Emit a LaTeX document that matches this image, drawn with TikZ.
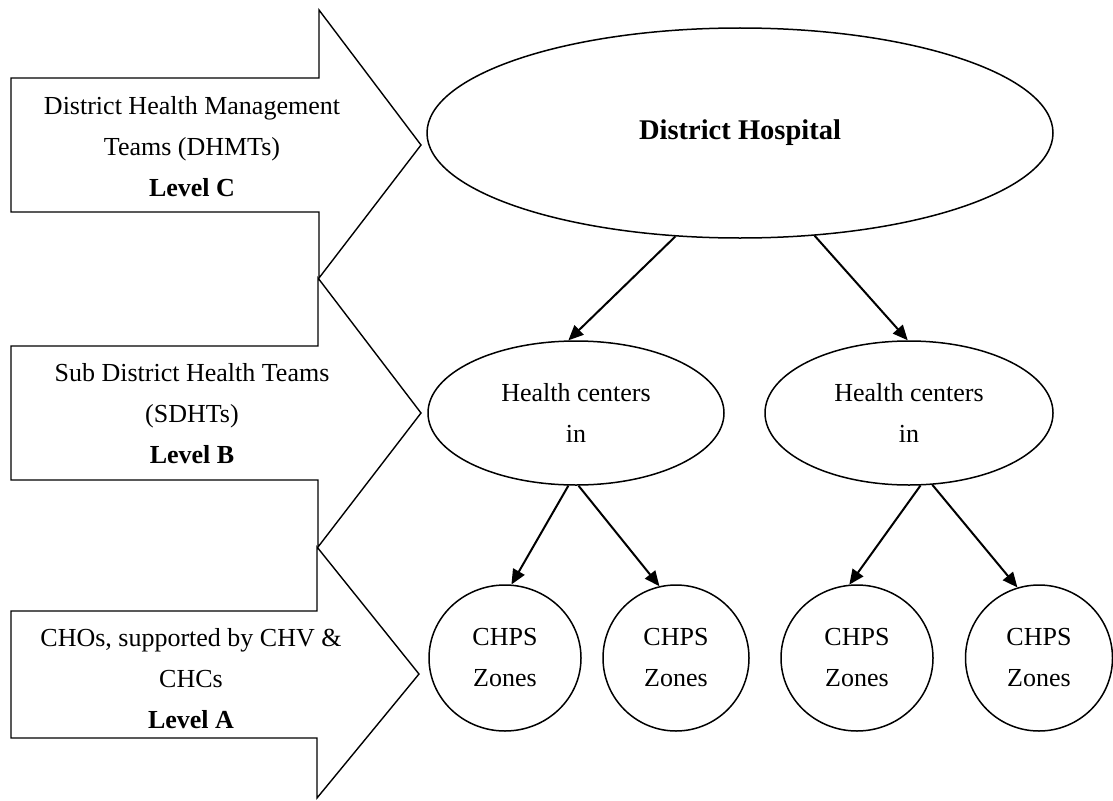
\documentclass[tikz,border=0pt]{standalone}
\usepackage{fontspec}
\setmainfont{Liberation Serif}
\usetikzlibrary{arrows.meta,shapes.geometric}
\begin{document}
\begin{tikzpicture}[x=1pt,y=-1pt,
  bigarrow/.style={draw=black,line width=1.4pt,line join=miter},
  lvltext/.style={align=center,inner sep=0pt,font=\fontsize{26}{41}\selectfont},
  oval/.style={draw=black,ellipse,line width=1.5pt,inner sep=0pt,align=center,font=\fontsize{26}{41}\selectfont},
  conn/.style={line width=2pt,-{Triangle[length=15pt,width=13pt]}}]
\useasboundingbox (0,0) rectangle (1113,800);

% level arrows (block shapes)
\draw[bigarrow] (11,78) -- (319,78) -- (319,10) -- (421,145) -- (319,278) -- (319,212) -- (11,212) -- cycle;
\draw[bigarrow] (11,346) -- (318,346) -- (318,278) -- (421,413) -- (318,547) -- (318,480) -- (11,480) -- cycle;
\draw[bigarrow] (11,611) -- (317,611) -- (317,547) -- (419,674) -- (317,798) -- (317,738) -- (11,738) -- cycle;

\node[lvltext] (lc) at (192,147) {District Health Management\\Teams (DHMTs)\\\textbf{Level C}};
\node[lvltext] (lb) at (192,414) {Sub District Health Teams\\(SDHTs)\\\textbf{Level B}};
\node[lvltext] (la) at (191,679) {CHOs, supported by CHV \&\\CHCs\\\textbf{Level A}};

% hierarchy
\node[oval,minimum width=626pt,minimum height=210pt,font=\fontsize{28.5}{34}\selectfont\bfseries] (dh) at (740,133) {District Hospital};
\node[oval,minimum width=296pt,minimum height=144pt] (hcl) at (576,413) {Health centers\\in};
\node[oval,minimum width=288pt,minimum height=144pt] (hcr) at (909,413) {Health centers\\in};

\node[oval,minimum width=152pt,minimum height=146pt] (c1) at (505,658) {CHPS\\Zones};
\node[oval,minimum width=146pt,minimum height=146pt] (c2) at (676,658) {CHPS\\Zones};
\node[oval,minimum width=152pt,minimum height=146pt] (c3) at (857,658) {CHPS\\Zones};
\node[oval,minimum width=147pt,minimum height=146pt] (c4) at (1039,658) {CHPS\\Zones};

\draw[conn] (dh.238) -- (hcl.96);
\draw[conn] (dh.306) -- (hcr.91);
\draw[conn] (hcl.264) -- (c1.85);
\draw[conn] (hcl.272) -- (c2.103);
\draw[conn] (hcr.279) -- (c3.96);
\draw[conn] (hcr.288) -- (c4.107);
\end{tikzpicture}
\end{document}
